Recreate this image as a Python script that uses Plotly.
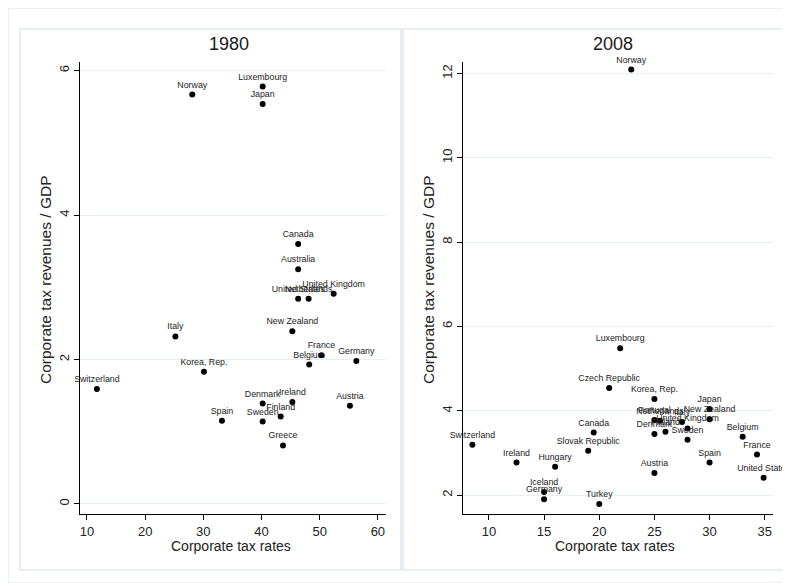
import plotly.graph_objects as go

# ---- 1980 data ----
countries_1980 = ["Norway", "Luxembourg", "Japan", "Canada", "Australia", "United States",
                  "Netherlands", "United Kingdom", "New Zealand", "Italy", "France", "Belgium",
                  "Germany", "Korea, Rep.", "Switzerland", "Denmark", "Ireland", "Finland",
                  "Sweden", "Spain", "Austria", "Greece"]
rate_1980 = [28.1, 40.2, 40.2, 46.3, 46.3, 46.3, 48.1, 52.4, 45.3, 25.2, 50.3, 48.2,
             56.3, 30.1, 11.7, 40.2, 45.3, 43.3, 40.2, 33.2, 55.2, 43.7]
rev_1980 = [5.67, 5.78, 5.54, 3.60, 3.25, 2.84, 2.84, 2.91, 2.39, 2.32, 2.06, 1.93,
            1.98, 1.83, 1.59, 1.39, 1.41, 1.21, 1.14, 1.15, 1.36, 0.81]

# ---- 2008 data ----
countries_2008 = ["Norway", "Luxembourg", "Czech Republic", "Korea, Rep.", "Japan", "New Zealand",
                  "Portugal", "Netherlands", "Italy", "United Kingdom", "Finland", "Denmark",
                  "Sweden", "Belgium", "Canada", "Switzerland", "Slovak Republic", "Ireland",
                  "Hungary", "Spain", "France", "United States", "Austria", "Iceland",
                  "Germany", "Turkey"]
rate_2008 = [22.9, 21.9, 20.9, 25.0, 30.0, 30.0, 25.0, 25.5, 27.5, 28.0, 26.0, 25.0,
             28.0, 33.0, 19.5, 8.5, 19.0, 12.5, 16.0, 30.0, 34.3, 34.9, 25.0, 15.0,
             15.0, 20.0]
rev_2008 = [12.09, 5.48, 4.54, 4.28, 4.04, 3.80, 3.78, 3.76, 3.73, 3.58, 3.50, 3.45,
            3.31, 3.38, 3.48, 3.19, 3.05, 2.77, 2.67, 2.77, 2.96, 2.41, 2.52, 2.07,
            1.90, 1.79]

panel_titles = ["1980", "2008"]
x_title = "Corporate tax rates"
y_title = "Corporate tax revenues / GDP"
xticks_1980 = [10, 20, 30, 40, 50, 60]
yticks_1980 = [0, 2, 4, 6]
xticks_2008 = [10, 15, 20, 25, 30, 35]
yticks_2008 = [2, 4, 6, 8, 10, 12]

# page body adds an 8px offset; figure fills the rest of the 790x583 window
OFF = 8
W, H = 790 - OFF, 583 - OFF
FONT = "Liberation Sans Narrow, Arial Narrow, Liberation Sans, Arial, sans-serif"
GRID = "#E6EEF0"
FRAME = "#E2E9EB"


def px(x):
    return (x - OFF) / W


def py(y):
    return 1 - (y - OFF) / H


fig = go.Figure()

label_font = dict(family="Liberation Sans, Arial, sans-serif", size=8.8, color="#222")

fig.add_trace(go.Scatter(
    x=rate_1980, y=rev_1980, text=countries_1980, mode="markers+text",
    textposition="top center", cliponaxis=False,
    marker=dict(color="black", size=6),
    textfont=label_font, xaxis="x", yaxis="y", hoverinfo="skip"))

fig.add_trace(go.Scatter(
    x=rate_2008, y=rev_2008, text=countries_2008, mode="markers+text",
    textposition="top center", cliponaxis=False,
    marker=dict(color="black", size=6),
    textfont=label_font, xaxis="x2", yaxis="y2", hoverinfo="skip"))

y_dom = [py(514), py(62)]

common_x = dict(showline=True, linecolor="black", linewidth=1, ticks="outside",
                ticklen=5, tickcolor="black", showgrid=False, zeroline=False,
                tickfont=dict(family=FONT, size=13, color="#222"))
common_y = dict(showline=True, linecolor="black", linewidth=1, ticks="outside",
                ticklen=5, tickcolor="black", showgrid=True, gridcolor=GRID,
                gridwidth=1, zeroline=False, tickangle=-90,
                tickfont=dict(family=FONT, size=13, color="#222"))

fig.update_layout(
    width=W, height=H,
    margin=dict(l=0, r=0, t=0, b=0),
    paper_bgcolor="white", plot_bgcolor="white",
    showlegend=False,
    xaxis=dict(domain=[px(80), px(386)], range=[8.8, 61.4], tickvals=xticks_1980,
               anchor="y", **common_x),
    yaxis=dict(domain=y_dom, range=[-0.14, 6.12], tickvals=yticks_1980,
               anchor="x", **common_y),
    xaxis2=dict(domain=[px(463), px(773)], range=[7.65, 35.75], tickvals=xticks_2008,
                anchor="y2", **common_x),
    yaxis2=dict(domain=y_dom, range=[1.55, 12.27], tickvals=yticks_2008,
                anchor="x2", **common_y),
)

shapes = [
    dict(type="rect", xref="paper", yref="paper", x0=0, x1=1, y0=0, y1=1,
         fillcolor="rgba(0,0,0,0)", line=dict(color=FRAME, width=1.5), layer="below"),
    dict(type="rect", xref="paper", yref="paper", x0=px(20), x1=px(401), y0=py(570), y1=py(29),
         fillcolor="rgba(0,0,0,0)", line=dict(color=FRAME, width=1.5), layer="below"),
    dict(type="rect", xref="paper", yref="paper", x0=px(403), x1=px(795), y0=py(570), y1=py(29),
         fillcolor="rgba(0,0,0,0)", line=dict(color=FRAME, width=1.5), layer="below"),
]
fig.update_layout(shapes=shapes)

annotations = []
for title, cx, ax_x in [(panel_titles[0], 229, 45), (panel_titles[1], 613, 428)]:
    annotations.append(dict(text=title, x=px(cx), y=py(44), xref="paper", yref="paper",
                            showarrow=False, xanchor="center", yanchor="middle",
                            font=dict(family=FONT, size=18, color="#1a1a1a")))
    annotations.append(dict(text=x_title, x=px(cx + 2), y=py(546), xref="paper", yref="paper",
                            showarrow=False, xanchor="center", yanchor="middle",
                            font=dict(family=FONT, size=14, color="#222")))
    annotations.append(dict(text=y_title, x=px(ax_x), y=py(280), xref="paper", yref="paper",
                            showarrow=False, xanchor="center", yanchor="middle", textangle=-90,
                            font=dict(family=FONT, size=15.5, color="#222")))
fig.update_layout(annotations=annotations)

fig.write_html("out.html")
